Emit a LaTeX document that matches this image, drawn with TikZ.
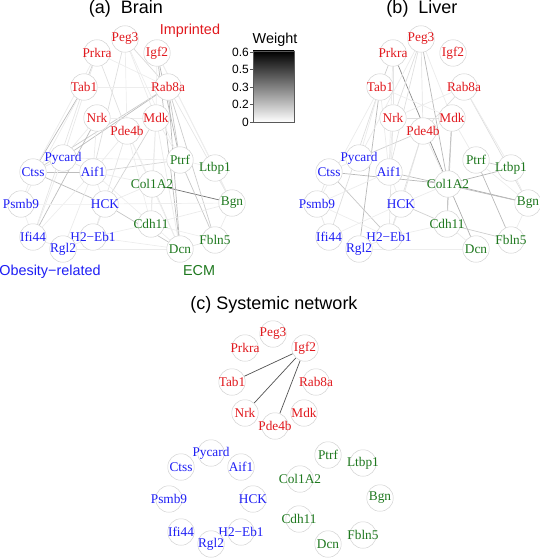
\documentclass[tikz,border=0pt]{standalone}
\usepackage{fontspec}
\setmainfont{Liberation Serif}
\newfontfamily\sansf{Liberation Sans}
\pgfdeclarelayer{bg}
\pgfsetlayers{bg,main}
\definecolor{impc}{RGB}{225,25,30}
\definecolor{obec}{RGB}{30,30,245}
\definecolor{ecmc}{RGB}{30,120,30}
\tikzset{
  gene/.style={circle, draw=black!17, line width=0.5pt, fill=white, minimum size=26.5pt, inner sep=0pt, font=\fontsize{13.3}{14}\selectfont},
  edge/.style={line width=0.7pt},
  ttl/.style={font=\sansf\fontsize{18}{18}\selectfont, anchor=base},
  grp/.style={font=\sansf\fontsize{14.4}{14.4}\selectfont, anchor=base},
  tick/.style={font=\sansf\fontsize{12}{12}\selectfont, anchor=east, inner sep=1pt},
}
\def\genelist{Peg3/125/39/impc/Peg3, Prkra/97/53/impc/Prkra, Igf2/157/53/impc/Igf2, Tab1/84/87/impc/Tab1, Rab8a/168/87/impc/Rab8a, Nrk/97/118/impc/Nrk, Mdk/156/118/impc/Mdk, Pde4b/127/131/impc/Pde4b, Pycard/63/158/obec/Pycard, Ctss/33/172/obec/Ctss, Aif1/93/172/obec/Aif1, Psmb9/21/204/obec/Psmb9, HCK/105/204/obec/HCK, Ifi44/33/237/obec/Ifi44, H2Eb1/93/237/obec/H2−Eb1, Rgl2/63/249/obec/Rgl2, Ptrf/180/160/ecmc/Ptrf, Ltbp1/215/168/ecmc/Ltbp1, Col1A2/152/184/ecmc/Col1A2, Bgn/232/203/ecmc/Bgn, Cdh11/151/224/ecmc/Cdh11, Fbln5/215/240/ecmc/Fbln5, Dcn/180/249/ecmc/Dcn}
\def\edgesa{Col1A2/Bgn/55, Ctss/Aif1/26, Ctss/HCK/28, HCK/Dcn/22, Rab8a/Pycard/26, Rab8a/Ctss/20, Tab1/Ctss/26, Nrk/Ifi44/26, Igf2/Ptrf/28, Igf2/Dcn/26, Rab8a/Ptrf/22, Rab8a/Dcn/28, Rab8a/Fbln5/20, Aif1/Ptrf/17, Ptrf/Fbln5/22, Peg3/Rab8a/15, Peg3/Aif1/13, Prkra/Tab1/18, Prkra/Pde4b/12, HCK/Mdk/17, Rab8a/Bgn/10, Prkra/Pycard/9, Tab1/Psmb9/8, Tab1/Ifi44/10, Nrk/Pycard/8, Nrk/Aif1/8, Nrk/Mdk/7, Pde4b/Aif1/8, Pde4b/H2Eb1/10, Pde4b/Col1A2/7, Pde4b/Cdh11/7, Mdk/Ptrf/8, Mdk/Col1A2/7, Mdk/Cdh11/8, Peg3/Mdk/8, Igf2/Mdk/7, Peg3/Pde4b/7, Prkra/Rab8a/7, Tab1/Rab8a/7, Col1A2/Cdh11/8, Col1A2/Dcn/10, Cdh11/Bgn/8, Cdh11/Fbln5/7, Dcn/Fbln5/10, Ltbp1/Bgn/8, Ptrf/Ltbp1/7, Bgn/Fbln5/8, Rgl2/Dcn/8, H2Eb1/Cdh11/7, Ifi44/Rgl2/8, Rgl2/H2Eb1/8, Psmb9/Ifi44/7, Ctss/Psmb9/8, Pycard/Aif1/10, Aif1/HCK/8, HCK/H2Eb1/10, Ifi44/Pycard/8, Aif1/Col1A2/8, HCK/Col1A2/8, Aif1/Dcn/7, Pycard/Ptrf/7, HCK/Bgn/7, Ctss/Pycard/10, Rgl2/Aif1/8, Ifi44/Aif1/7, Psmb9/HCK/5, Prkra/Ctss/8, Igf2/Ltbp1/7, Igf2/Bgn/7, Peg3/Ptrf/7, Mdk/Dcn/8, Pde4b/Dcn/7, H2Eb1/Dcn/7}
\def\edgesb{Prkra/Col1A2/45, Peg3/Col1A2/28, Col1A2/Dcn/32, Col1A2/Bgn/32, Aif1/Bgn/26, Ctss/Col1A2/28, Col1A2/Ltbp1/28, Ptrf/Fbln5/28, Tab1/Rgl2/28, Prkra/Tab1/20, Pde4b/Pycard/18, Mdk/Col1A2/26, Mdk/Cdh11/22, Col1A2/Cdh11/22, Ctss/H2Eb1/22, HCK/Cdh11/18, Cdh11/Fbln5/20, Ptrf/Ltbp1/20, Rab8a/Bgn/13, Peg3/Nrk/13, Peg3/Aif1/12, Peg3/Pde4b/10, Rab8a/Pde4b/13, Nrk/Mdk/13, Tab1/Ifi44/13, Tab1/Psmb9/8, Pde4b/HCK/10, Pde4b/H2Eb1/12, Nrk/H2Eb1/10, Psmb9/Ifi44/10, Ctss/Psmb9/10, Psmb9/Aif1/8, HCK/H2Eb1/10, Rgl2/H2Eb1/8, Aif1/HCK/8, Bgn/Fbln5/8, Ltbp1/Bgn/8, Cdh11/Dcn/8, Ptrf/Bgn/7, Rab8a/Ltbp1/8, Prkra/Nrk/10, Tab1/Pycard/8, Peg3/Pycard/8, Prkra/Aif1/8, Rab8a/Nrk/8, Nrk/Aif1/8, Pde4b/Mdk/8, Mdk/Ptrf/8, HCK/Col1A2/8, Ifi44/HCK/7, Psmb9/H2Eb1/7, Ctss/Pycard/8, Peg3/Mdk/8, Pde4b/Col1A2/10, Tab1/Aif1/8, H2Eb1/Cdh11/7, Rgl2/Dcn/7, Tab1/Mdk/7}
\begin{document}
\begin{tikzpicture}[x=1pt,y=-1pt]
\useasboundingbox (0,0) rectangle (540,559);
% nodes of the three panels
\foreach \n/\x/\y/\c/\t in \genelist {
  \node[gene,text=\c] (a\n) at (\x,\y) {\makebox[0pt]{\t}};
  \node[gene,text=\c] (b\n) at (\x+296,\y) {\makebox[0pt]{\t}};
  \node[gene,text=\c] (c\n) at (\x+148,\y+295) {\makebox[0pt]{\t}};
}
% edges
\begin{pgfonlayer}{bg}
\foreach \u/\v/\g in \edgesa { \draw[edge,draw=black!\g] (a\u) -- (a\v); }
\foreach \u/\v/\g in \edgesb { \draw[edge,draw=black!\g] (b\u) -- (b\v); }
\foreach \u/\v in {Igf2/Tab1, Igf2/Nrk, Igf2/Pde4b} { \draw[edge,draw=black!68] (c\u) -- (c\v); }
\end{pgfonlayer}
% titles and group labels
\node[ttl] (ta) at (126,14) {(a)~~Brain};
\node[ttl] (tb) at (422,14) {(b)~~Liver};
\node[ttl] (tc) at (274,309) {(c) Systemic network};
\node[grp,text=impc] (gi) at (190,34.5) {Imprinted};
\node[grp,text=obec] (go) at (50,275.5) {Obesity\char"2212 related};
\node[grp,text=ecmc] (ge) at (199,275.5) {ECM};
% legend
\node[grp] (lw) at (275,44) {Weight};
\shade[top color=black, bottom color=white] (253,51) rectangle (294,122);
\draw[black!65, line width=0.6pt] (253,51) rectangle (294,122);
\foreach \v/\yy [count=\i] in {0.6/52, 0.5/69, 0.3/87, 0.2/104, 0/122} {
  \draw[black!65, line width=0.6pt] (250,\yy) -- (253,\yy);
  \node[tick] (tk\i) at (250,\yy) {\v};
}
\end{tikzpicture}
\end{document}
